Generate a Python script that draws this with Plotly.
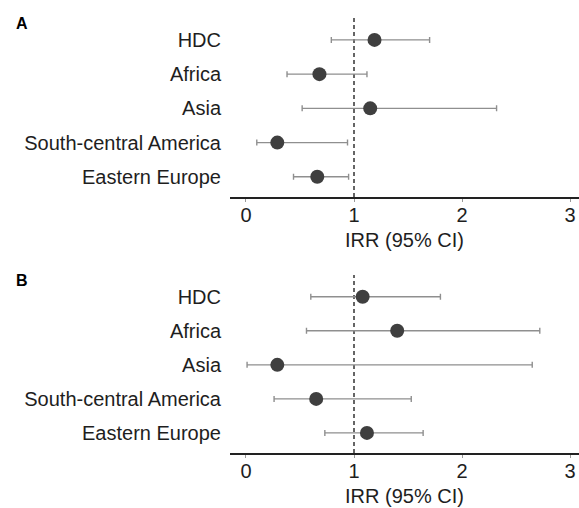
import plotly.graph_objects as go

categories = ["HDC", "Africa", "Asia", "South-central America", "Eastern Europe"]

# Panel A
irr_a = [1.19, 0.68, 1.15, 0.29, 0.66]
lo_a = [0.79, 0.38, 0.52, 0.10, 0.44]
hi_a = [1.70, 1.12, 2.32, 0.94, 0.95]

# Panel B
irr_b = [1.08, 1.40, 0.29, 0.65, 1.12]
lo_b = [0.60, 0.56, 0.01, 0.26, 0.73]
hi_b = [1.80, 2.72, 2.65, 1.53, 1.64]

x_ticks = [0, 1, 2, 3]
x_title = "IRR (95% CI)"
panel_labels = ["A", "B"]

FONT = "Liberation Sans, Arial, sans-serif"
TXT = "#1e1e1e"
PT = "#3f3f3f"
WH = "#8f8f8f"

W, H = 579, 508


def fx(px):
    return px / W


def fy(px):
    return 1 - px / H


fig = go.Figure()

panels = [
    (irr_a, lo_a, hi_a, "x", "y"),
    (irr_b, lo_b, hi_b, "x2", "y2"),
]
for irr, lo, hi, xa, ya in panels:
    fig.add_trace(go.Scatter(
        x=irr, y=categories, xaxis=xa, yaxis=ya, mode="markers",
        marker=dict(size=14, color=PT),
        error_x=dict(type="data", symmetric=False,
                     array=[h - v for h, v in zip(hi, irr)],
                     arrayminus=[v - l for v, l in zip(irr, lo)],
                     color=WH, thickness=1.4, width=3),
        showlegend=False, hoverinfo="skip",
    ))

x_dom = [fx(230), 1.0]
x_rng = [-0.148, 3.083]
y_rng = [4.59, -0.64]

common_x = dict(domain=x_dom, range=x_rng, tickvals=x_ticks, showgrid=False,
                zeroline=False, showline=True, linecolor="#222222", linewidth=1.5,
                ticks="outside", ticklen=3, tickwidth=1, tickcolor="#999999",
                ticklabelstandoff=-4,
                tickfont=dict(size=20, family=FONT, color=TXT),
                title=dict(text=x_title, font=dict(size=20, family=FONT, color=TXT), standoff=8))
common_y = dict(type="category", range=y_rng, showgrid=False, zeroline=False,
                showline=False, ticks="", ticklabelstandoff=8,
                tickfont=dict(size=20, family=FONT, color=TXT))

fig.update_layout(
    width=W, height=H,
    margin=dict(l=0, r=0, t=0, b=0),
    paper_bgcolor="white", plot_bgcolor="white",
    xaxis=dict(anchor="y", **common_x),
    yaxis=dict(anchor="x", domain=[fy(197), fy(18)], **common_y),
    xaxis2=dict(anchor="y2", **common_x),
    yaxis2=dict(anchor="x2", domain=[fy(453), fy(275)], **common_y),
)

for xa, ya in [("x", "y"), ("x2", "y2")]:
    fig.add_shape(type="line", xref=xa, yref=f"{ya} domain", x0=1, x1=1, y0=0, y1=1,
                  line=dict(color="#555555", width=1.8, dash="4px,3px"), layer="below")

for lab, ypx in zip(panel_labels, [23, 280]):
    fig.add_annotation(text=f"<b>{lab}</b>", xref="paper", yref="paper",
                       x=fx(14), y=fy(ypx), xanchor="left", yanchor="middle",
                       showarrow=False, font=dict(size=16, family=FONT, color="#000000"))

fig.write_html(
    "out.html",
    config={"displayModeBar": False},
    post_script="document.body.style.margin='0';document.body.style.overflow='hidden';",
)
